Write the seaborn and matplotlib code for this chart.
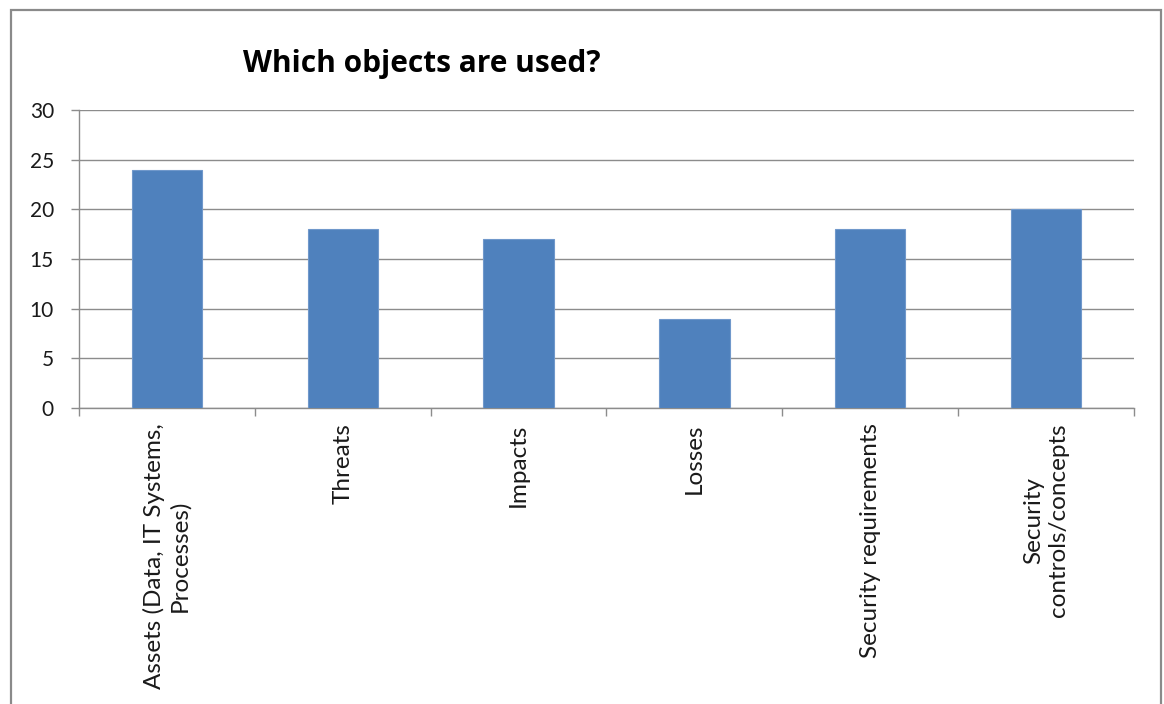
import matplotlib
matplotlib.use("Agg")
import matplotlib.pyplot as plt
from matplotlib.patches import Rectangle
import seaborn as sns
import pandas as pd

categories = [
    "Assets (Data, IT Systems,\nProcesses)",
    "Threats",
    "Impacts",
    "Losses",
    "Security requirements",
    "Security\ncontrols/concepts",
]
counts = [24, 18, 17, 9, 18, 20]
y_ticks = [0, 5, 10, 15, 20, 25, 30]
title = "Which objects are used?"

sns.set_style("white")
plt.rcParams["font.family"] = ["Lato", "DejaVu Sans"]

df = pd.DataFrame({"object": categories, "count": counts})

fig = plt.figure(figsize=(11.64, 7.04), dpi=100)
ax = fig.add_axes([79 / 1164, 1 - 408 / 704, (1134 - 79) / 1164, (408 - 110) / 704])

grey = "#8c8c8c"
sns.barplot(data=df, x="object", y="count", color="#4F81BD", saturation=1,
            width=0.4, edgecolor="#7098cb", linewidth=0.8, ax=ax, zorder=3)

ax.set_ylim(0, 30)
ax.set_xlim(-0.5, len(categories) - 0.5)
ax.set_yticks(y_ticks)
ax.set_yticklabels([str(v) for v in y_ticks], fontsize=15, color="#1a1a1a")
ax.yaxis.grid(True, color=grey, linewidth=1.0, zorder=0)
ax.set_axisbelow(True)

# category labels at bar centres, tick marks at category boundaries
ax.set_xticks(range(len(categories)))
ax.set_xticklabels(categories, rotation=90, fontsize=17.5, color="#1a1a1a",
                   va="top", ha="center", multialignment="center",
                   linespacing=1.2)
ax.set_xticks([i - 0.5 for i in range(len(categories) + 1)], minor=True)
ax.tick_params(axis="x", which="major", length=0, pad=11)
ax.tick_params(axis="x", which="minor", length=6, width=1.0, color=grey,
               direction="out", bottom=True)
ax.tick_params(axis="y", length=6, width=1.0, color=grey, direction="out",
               left=True, pad=12)

ax.set_xlabel("")
ax.set_ylabel("")
for side in ("top", "right"):
    ax.spines[side].set_visible(False)
for side in ("left", "bottom"):
    ax.spines[side].set_color(grey)
    ax.spines[side].set_linewidth(1.0)

fig.text(422 / 1164, 1 - 72 / 704, title, ha="center", va="baseline",
         fontsize=21.5, fontweight="bold", color="black",
         family=["Open Sans", "DejaVu Sans"])

# chart frame
fig.patches.append(Rectangle((11 / 1164, -0.05), (1161 - 11) / 1164,
                             1 - 10 / 704 + 0.05, transform=fig.transFigure,
                             fill=False, edgecolor="#8a8a8a", linewidth=1.6))

fig.savefig("out.png", dpi=100)
